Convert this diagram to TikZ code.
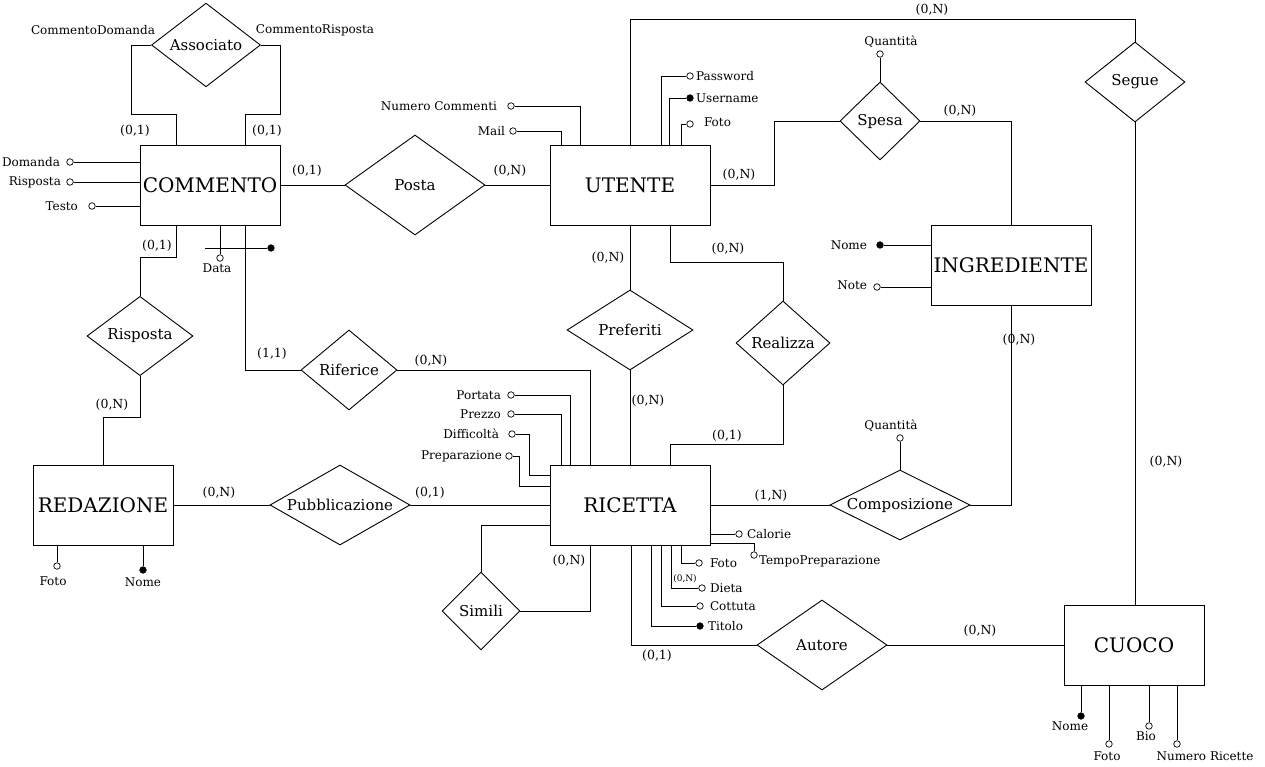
\documentclass[tikz,border=0pt]{standalone}
\usepackage{fontspec}
\setmainfont{DejaVu Serif}
\usetikzlibrary{shapes.geometric,positioning}
\tikzset{
	entity/.style={
		draw, rectangle, minimum width=160pt, minimum height=80pt, inner sep=0pt,
		font={\fontsize{20}{24}\selectfont}
	},
	rel/.style={
		draw, diamond, inner sep=0pt,
		font={\fontsize{15}{18}\selectfont}
	},
	attr/.style={draw, circle, fill=white, inner sep=0pt, minimum size=6.5pt, line width=0.7pt},
	keyA/.style={attr, fill=black},
	card/.style={inner sep=0pt, font={\fontsize{12.5}{14}\selectfont}},
	txt/.style={inner sep=0pt, font={\fontsize{12}{14}\selectfont}},
}

\begin{document}
\begin{tikzpicture}[x=1pt, y=-1pt, line width=0.9pt]
\useasboundingbox (0,0) rectangle (1265,767);

% entita
\node[entity, minimum width=140pt] (commento) at (210,185) {COMMENTO};
\node[entity] (utente) at (630,185) {UTENTE};
\node[entity] (ingrediente) at (1011,265) {INGREDIENTE};
\node[entity, minimum width=140pt] (redazione) at (103,505) {REDAZIONE};
\node[entity] (ricetta) at (630,505) {RICETTA};
\node[entity, minimum width=140pt] (cuoco) at (1134,645) {CUOCO};

% relazioni
\node[rel, minimum width=109pt, minimum height=80pt] (associato) at (206,45) {Associato};
\node[rel, minimum width=140pt, minimum height=100pt] (posta) at (415,185) {Posta};
\node[rel, minimum width=100pt, minimum height=80pt] (segue) at (1135,82) {Segue};
\node[rel, minimum width=80pt, minimum height=78pt] (spesa) at (880,121) {Spesa};
\node[rel, minimum width=106pt, minimum height=72pt] (risposta) at (140,336) {Risposta};
\node[rel, minimum width=126pt, minimum height=80pt] (preferiti) at (630,330) {Preferiti};
\node[rel, minimum width=94pt, minimum height=84pt] (realizza) at (783,343) {Realizza};
\node[rel, minimum width=96pt, minimum height=80pt] (riferice) at (349,370) {Riferice};
\node[rel, aspect=1.75, inner ysep=-3pt, minimum width=140pt, minimum height=80pt] (pubblicazione) at (340,505) {Pubblicazione};
\node[rel, aspect=2, inner ysep=-3pt, minimum width=140pt, minimum height=70pt] (composizione) at (900,505) {Composizione};
\node[rel, minimum width=78pt, minimum height=78pt] (simili) at (481,611) {Simili};
\node[rel, minimum width=130pt, minimum height=90pt] (autore) at (822,645) {Autore};

% collegamenti
\draw (associato.west) -| ([xshift=-79pt,yshift=30pt]commento.north) -| ([xshift=-34pt]commento.north);
\draw (associato.east) -| ([xshift=70pt,yshift=30pt]commento.north) -| ([xshift=35pt]commento.north);
\draw (commento.east) -- (posta.west);
\draw (posta.east) -- (utente.west);
\draw ([xshift=-34pt]commento.south) |- ([yshift=38pt]risposta.north) -- (risposta.north);
\draw (risposta.south) |- ([yshift=47pt]redazione.north) -- (redazione.north);
\draw ([xshift=35pt]commento.south) |- (riferice.west);
\draw (riferice.east) -| ([xshift=-40pt]ricetta.north);
\draw (redazione.east) -- (pubblicazione.west);
\draw (pubblicazione.east) -- (ricetta.west);
\draw (utente.north) |- ([yshift=22pt]segue.north) -- (segue.north);
\draw (segue.south) -- (segue.south |- cuoco.north);
\draw (utente.east) -| ([xshift=-65pt]spesa.west) -- (spesa.west);
\draw (spesa.east) -| (ingrediente.north);
\draw (utente.south) -- (preferiti.north);
\draw ([xshift=40pt]utente.south) |- ([yshift=38pt]realizza.north) -- (realizza.north);
\draw (preferiti.south) -- (ricetta.north);
\draw (realizza.south) |- ([xshift=40pt,yshift=20pt]ricetta.north) -- ([xshift=40pt]ricetta.north);
\draw (ingrediente.south) |- (composizione.east);
\draw (composizione.west) -- (ricetta.east);
\draw ([yshift=-20pt]ricetta.west) -| (simili.north);
\draw (simili.east) -| ([xshift=-40pt]ricetta.south);
\draw ([xshift=1pt]ricetta.south) |- (autore.west);
\draw (autore.east) -- (cuoco.west);

% cardinalita
\node[card] (k1) at (135,131) {(0,1)};
\node[card] (k2) at (267,131) {(0,1)};
\node[card] (k3) at (307,171) {(0,1)};
\node[card] (k4) at (510,171) {(0,N)};
\node[card] (k5) at (157,246) {(0,1)};
\node[card] (k6) at (272,354) {(1,1)};
\node[card] (k7) at (431,361) {(0,N)};
\node[card] (k8) at (112,405) {(0,N)};
\node[card] (k9) at (219,493) {(0,N)};
\node[card] (k10) at (430,493) {(0,1)};
\node[card] (k11) at (932,10) {(0,N)};
\node[card] (k12) at (1166,462) {(0,N)};
\node[card] (k13) at (739,175) {(0,N)};
\node[card] (k14) at (960,111) {(0,N)};
\node[card] (k15) at (608,258) {(0,N)};
\node[card] (k16) at (728,249) {(0,N)};
\node[card] (k17) at (648,401) {(0,N)};
\node[card] (k18) at (727,436) {(0,1)};
\node[card] (k19) at (1019,340) {(0,N)};
\node[card] (k20) at (771,496) {(1,N)};
\node[card] (k21) at (569,561) {(0,N)};
\node[card] (k22) at (657,656) {(0,1)};
\node[card] (k23) at (980,631) {(0,N)};
\node[txt] (ruolo-d) at (93,30) {CommentoDomanda};
\node[txt] (ruolo-r) at (315,30) {CommentoRisposta};

% attributi COMMENTO
\node[attr] (c-dom) at (70,162) {};
\node[txt, left=6pt of c-dom] (c-dom-t) {Domanda};
\node[attr] (c-ris) at (70,182) {};
\node[txt, left=5pt of c-ris] (c-ris-t) {Risposta};
\node[attr] (c-testo) at (92,206) {};
\node[txt, left=10pt of c-testo] (c-testo-t) {Testo};
\draw (c-dom) -- (c-dom -| commento.west);
\draw (c-ris) -- (c-ris -| commento.west);
\draw (c-testo) -- (c-testo -| commento.west);
\node[attr] (c-data) at (220,258) {};
\node[txt, below=2pt of c-data, xshift=-3pt] (c-data-t) {Data};
\draw (c-data) -- (c-data |- commento.south);
\coordinate (c-id) at (205,248);
\node[keyA] (c-key) at (271,248) {};
\draw (c-id) -- (c-key);

% attributi UTENTE
\node[attr] (u-nc) at (511,106) {};
\node[txt, left=10pt of u-nc] (u-nc-t) {Numero Commenti};
\node[attr] (u-mail) at (513,131) {};
\node[txt, left=4pt of u-mail] (u-mail-t) {Mail};
\node[attr] (u-pwd) at (690,76) {};
\node[txt, right=2pt of u-pwd] (u-pwd-t) {Password};
\node[keyA] (u-user) at (690,98) {};
\node[txt, right=2pt of u-user] (u-user-t) {Username};
\node[attr] (u-foto) at (690,124) {};
\node[txt, right=10pt of u-foto, yshift=2pt] (u-foto-t) {Foto};
\draw (u-nc) -| ([xshift=-50pt]utente.north);
\draw (u-mail) -| ([xshift=-69pt]utente.north);
\draw (u-pwd) -| ([xshift=31pt]utente.north);
\draw (u-user) -| ([xshift=39pt]utente.north);
\draw (u-foto) -| ([xshift=51pt]utente.north);

% attributi relazioni
\node[attr] (s-q) at (880,54) {};
\node[txt, above=3pt of s-q, xshift=11pt] (s-q-t) {Quantità};
\draw (s-q) -- (spesa.north);
\node[attr] (co-q) at (900,438) {};
\node[txt, above=3pt of co-q, xshift=-9pt] (co-q-t) {Quantità};
\draw (co-q) -- (composizione.north);

% attributi INGREDIENTE
\node[keyA] (i-nome) at (880,245) {};
\node[txt, left=9pt of i-nome] (i-nome-t) {Nome};
\node[attr] (i-note) at (877,287) {};
\node[txt, left=6pt of i-note, yshift=2pt] (i-note-t) {Note};
\draw (i-nome) -- (i-nome -| ingrediente.west);
\draw (i-note) -- (i-note -| ingrediente.west);

% attributi RICETTA
\node[attr] (r-port) at (511,395) {};
\node[txt, left=6pt of r-port] (r-port-t) {Portata};
\node[attr] (r-prez) at (511,414) {};
\node[txt, left=6pt of r-prez] (r-prez-t) {Prezzo};
\node[attr] (r-diff) at (512,434) {};
\node[txt, left=9pt of r-diff] (r-diff-t) {Difficoltà};
\node[attr] (r-prep) at (509,456) {};
\node[txt, left=3pt of r-prep] (r-prep-t) {Preparazione};
\draw (r-port) -| ([xshift=-60pt]ricetta.north);
\draw (r-prez) -| ([xshift=-69pt]ricetta.north);
\draw (r-diff) -| ([xshift=-20pt,yshift=30pt]ricetta.west) -- ([yshift=30pt]ricetta.west);
\draw (r-prep) -| ([xshift=-30pt,yshift=19pt]ricetta.west) -- ([yshift=19pt]ricetta.west);
\node[attr] (r-cal) at (739,534) {};
\node[txt, right=4pt of r-cal] (r-cal-t) {Calorie};
\node[attr] (r-tempo) at (754,555) {};
\node[txt, right=1pt of r-tempo, yshift=-6pt] (r-tempo-t) {TempoPreparazione};
\node[attr] (r-foto) at (699,563) {};
\node[txt, right=7pt of r-foto] (r-foto-t) {Foto};
\node[attr] (r-dieta) at (702,588) {};
\node[txt, right=4pt of r-dieta] (r-dieta-t) {Dieta};
\node[inner sep=0pt, font={\fontsize{9}{10}\selectfont}] (r-dieta-k) at (685,579) {(0,N)};
\node[attr] (r-cott) at (700,606) {};
\node[txt, right=6pt of r-cott] (r-cott-t) {Cottuta};
\node[keyA] (r-tit) at (700,626) {};
\node[txt, right=4pt of r-tit] (r-tit-t) {Titolo};
\draw (r-cal) -- (r-cal -| ricetta.east);
\draw (r-tempo) |- ([yshift=2pt]ricetta.south east);
\draw (r-foto) -| ([xshift=51pt]ricetta.south);
\draw (r-dieta) -| ([xshift=41pt]ricetta.south);
\draw (r-cott) -| ([xshift=31pt]ricetta.south);
\draw (r-tit) -| ([xshift=21pt]ricetta.south);

% attributi REDAZIONE
\node[attr] (re-foto) at (57,566) {};
\node[txt, below=7pt of re-foto, xshift=-4pt] (re-foto-t) {Foto};
\node[keyA] (re-nome) at (143,570) {};
\node[txt, below=4pt of re-nome] (re-nome-t) {Nome};
\draw (re-foto) -- (re-foto |- redazione.south);
\draw (re-nome) -- (re-nome |- redazione.south);

% attributi CUOCO
\node[keyA] (cu-nome) at (1081,716) {};
\node[txt, below=2pt of cu-nome, xshift=-11pt] (cu-nome-t) {Nome};
\node[attr] (cu-foto) at (1109,744) {};
\node[txt, below=4pt of cu-foto, xshift=-2pt] (cu-foto-t) {Foto};
\node[attr] (cu-bio) at (1149,726) {};
\node[txt, below=2pt of cu-bio, xshift=-3pt] (cu-bio-t) {Bio};
\node[attr] (cu-nr) at (1177,744) {};
\node[txt, below=4pt of cu-nr, xshift=28pt] (cu-nr-t) {Numero Ricette};
\draw (cu-nome) -- (cu-nome |- cuoco.south);
\draw (cu-foto) -- (cu-foto |- cuoco.south);
\draw (cu-bio) -- (cu-bio |- cuoco.south);
\draw (cu-nr) -- (cu-nr |- cuoco.south);
\end{tikzpicture}
\end{document}
